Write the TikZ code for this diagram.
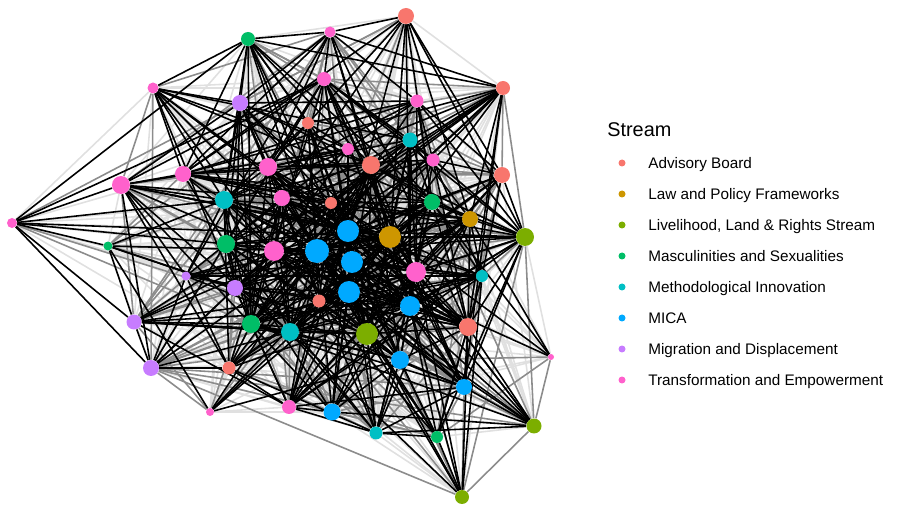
\documentclass[tikz,border=0pt]{standalone}
\usepackage{fontspec}
\setmainfont{Liberation Sans}
\definecolor{cAB}{HTML}{F8766D}
\definecolor{cLP}{HTML}{CD9600}
\definecolor{cLL}{HTML}{7CAE00}
\definecolor{cMS}{HTML}{00BE67}
\definecolor{cMI}{HTML}{00BFC4}
\definecolor{cMC}{HTML}{00A9FF}
\definecolor{cMD}{HTML}{C77CFF}
\definecolor{cTE}{HTML}{FF61CC}
\pgfdeclarelayer{elight}\pgfdeclarelayer{emid}\pgfdeclarelayer{edark}
\pgfsetlayers{elight,emid,edark,main}
\def\nodedata{1/248/39/7/MS, 2/153/88/5.5/TE, 3/240/103/8/MD, 4/121/185/9/TE, 5/183/174/8/TE,
6/268/167/9/TE, 7/224/200/9/MI, 8/282/198/8/TE, 9/12/223/5/TE, 10/108/246/4.5/MS,
11/226/244/9/MS, 12/274/251/10/TE, 13/406/16/8/AB, 14/330/32/5.5/TE, 15/324/79/7/TE,
16/503/88/7/AB, 17/417/101/6.5/TE, 18/308/123/6/AB, 19/410/140/7.5/MI, 20/348/149/6/TE,
21/371/165/9/AB, 22/433/160/6.5/TE, 23/502/175/8/AB, 24/331/203/6/AB, 25/432/202/8/MS,
26/470/219/8/LP, 27/525/237/9/LL, 28/348/231/11/MC, 29/390/237/11/LP, 30/317/251/12/MC,
31/352/262/11/MC, 32/416/272/10/TE, 33/186/276/4.5/MD, 34/482/276/6/MI, 35/235/288/8/MD,
36/349/292/11/MC, 37/319/301/6.5/AB, 38/410/306/10/MC, 39/251/324/9/MS, 40/290/332/9/MI,
41/367/334/11/LL, 42/468/327/9/AB, 43/134/322/7.5/MD, 44/151/368/8/MD, 45/229/368/6.5/AB,
46/210/412/4/TE, 47/289/407/7/TE, 48/400/360/9/MC, 49/551/357/3/TE, 50/464/387/8/MC,
51/332/412/8.5/MC, 52/376/433/6.5/MI, 53/437/437/6/MS, 54/534/426/7.5/LL, 55/462/497/7/LL}
\newcommand\edgepass[2]{%
\foreach \i in {1,...,54}{
  \pgfmathtruncatemacro\js{\i+1}
  \foreach \j in {\js,...,55}{
    \edef\xa{\csname nX\i\endcsname}\edef\ya{\csname nY\i\endcsname}\edef\ra{\csname nR\i\endcsname}
    \edef\xb{\csname nX\j\endcsname}\edef\yb{\csname nY\j\endcsname}\edef\rb{\csname nR\j\endcsname}
    \pgfmathsetmacro\dd{veclen(\xa-\xb,\ya-\yb)}
    \pgfmathsetmacro\TT{\ra*\rb*1.6*exp(-\dd/170)}
    \pgfmathtruncatemacro\hh{mod(\i*17+\j*31+13*mod(\i*\j,97),101)}
    \pgfmathtruncatemacro\lvl{\hh<\TT ? 3 : (\hh<1.6*\TT+2 ? 2 : (\hh<3*\TT+14 ? 1 : 0))}
    \ifnum\lvl=#1\relax \draw[#2] (n\i) -- (n\j);\fi
  }
}}
\begin{document}
\begin{tikzpicture}[x=0.02cm,y=-0.02cm,
  vtx/.style={circle,inner sep=0pt,draw=none},
  linkdark/.style={black,line width=0.9pt},
  linkmid/.style={black!45,line width=0.9pt},
  linklight/.style={black!12,line width=0.9pt},
  keydot/.style={circle,inner sep=0pt,minimum size=0.14cm},
  keytext/.style={anchor=base west,inner sep=0pt,font=\fontsize{8.7}{10}\selectfont}]
\useasboundingbox (0,0) rectangle (899,506);
% nodes
\foreach \i/\px/\py/\rr/\cc in \nodedata {
  \node[vtx,fill=c\cc,minimum size=\rr*0.04cm] (n\i) at (\px,\py) {};
  \expandafter\xdef\csname nX\i\endcsname{\px}
  \expandafter\xdef\csname nY\i\endcsname{\py}
  \expandafter\xdef\csname nR\i\endcsname{\rr}
}
% edges
\begin{pgfonlayer}{elight}\edgepass{1}{linklight}\end{pgfonlayer}
\begin{pgfonlayer}{emid}\edgepass{2}{linkmid}\end{pgfonlayer}
\begin{pgfonlayer}{edark}\edgepass{3}{linkdark}\end{pgfonlayer}
% legend
\node[anchor=base west,inner sep=0pt,font=\fontsize{11.3}{13}\selectfont] (ttl) at (607,137) {Stream};
\foreach \k/\cc/\txt [count=\m] in {163/AB/Advisory Board, 194/LP/Law and Policy Frameworks,
  225/LL/{Livelihood, Land \& Rights Stream}, 256/MS/Masculinities and Sexualities,
  287/MI/Methodological Innovation, 318/MC/MICA, 349/MD/Migration and Displacement,
  380/TE/Transformation and Empowerment}{
  \node[keydot,fill=c\cc] (k\m) at (622,\k) {};
  \node[keytext] (t\m) at (648,\k+5.5) {\txt};
}
\end{tikzpicture}
\end{document}
